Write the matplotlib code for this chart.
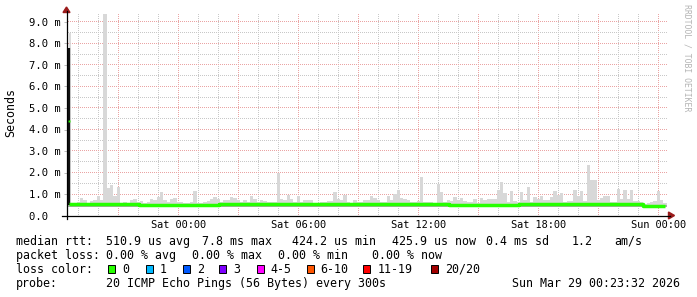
import numpy as np
import matplotlib
matplotlib.use("Agg")
import matplotlib.pyplot as plt
from matplotlib.lines import Line2D
from matplotlib.patches import Rectangle, Polygon

# ---------------- data (times in hours relative to Sat 00:00, values in ms) ----------------
start_hour = -5.6
bin_minutes = 10
smoke_top_ms = [
    0.6, 0.6, 0.6, 0.62, 0.82, 0.7, 0.6, 0.68, 0.7, 0.9, 0.7, 9.35, 1.29, 1.42, 0.92, 1.34, 0.6, 0.62,
    0.6, 0.7, 0.75, 0.62, 0.69, 0.6, 0.62, 0.78, 0.7, 0.84, 1.08, 0.7, 0.65, 0.75, 0.81, 0.65, 0.62, 0.6,
    0.6, 0.65, 1.13, 0.6, 0.6, 0.63, 0.68, 0.78, 0.87, 0.75, 0.62, 0.7, 0.72, 0.84, 0.8, 0.7, 0.62, 0.72,
    0.65, 0.9, 0.78, 0.62, 0.72, 0.69, 0.65, 0.62, 0.65, 1.99, 0.75, 0.7, 0.96, 0.75, 0.62, 0.93, 0.65, 0.72,
    0.72, 0.7, 0.6, 0.6, 0.65, 0.65, 0.69, 0.69, 1.1, 0.75, 0.7, 0.96, 0.62, 0.6, 0.72, 0.65, 0.62, 0.72,
    0.72, 0.92, 0.8, 0.72, 0.65, 0.62, 0.92, 0.72, 0.98, 1.2, 0.83, 0.78, 0.72, 0.62, 0.65, 0.69, 1.77, 0.65,
    0.62, 0.63, 0.6, 1.47, 1.1, 0.62, 0.72, 0.69, 0.87, 0.72, 0.83, 0.69, 0.65, 0.65, 0.75, 0.6, 0.83, 0.72,
    0.78, 0.78, 0.78, 1.2, 1.54, 1.03, 0.62, 1.13, 0.69, 0.62, 1.1, 0.72, 1.34, 0.65, 0.87, 0.75, 0.9, 0.7,
    0.7, 0.84, 1.13, 0.96, 1.05, 0.65, 0.69, 0.69, 1.2, 0.93, 1.13, 0.69, 2.35, 1.65, 1.65, 0.72, 0.8, 0.92,
    0.92, 0.65, 0.65, 1.22, 0.75, 1.19, 0.75, 1.19, 0.69, 0.69, 0.62, 0.55, 0.6, 0.63, 0.69, 1.16, 0.7, 0.6,
]
smoke_bottom_ms = 0.40
median_hours = [-5.5, -2.0, 2.0, 8.0, 13.5, 17.0, 20.5, 23.2, 24.3]
median_ms = [0.52, 0.51, 0.52, 0.52, 0.51, 0.52, 0.53, 0.44, 0.44]
first_sample_hour = -5.475
first_sample_top_ms = 8.5
first_sample_max_ms = 7.8
first_sample_median_ms = 4.4

ytick_values = [0, 1, 2, 3, 4, 5, 6, 7, 8, 9]
ytick_labels = ["0.0  ", "1.0 m", "2.0 m", "3.0 m", "4.0 m", "5.0 m", "6.0 m", "7.0 m", "8.0 m", "9.0 m"]
xtick_hours = [0, 6, 12, 18, 24]
xtick_labels = ["Sat 00:00", "Sat 06:00", "Sat 12:00", "Sat 18:00", "Sun 00:00"]

loss_labels = ["0", "1", "2", "3", "4-5", "6-10", "11-19", "20/20"]
loss_colors = ["#26ff00", "#00b8ff", "#0059ff", "#7e00ff", "#ff00ff", "#ff5500", "#ff0000", "#a10000"]

legend_rows = [
    [("median rtt:", 16), ("510.9 us avg", 106.5), ("7.8 ms max", 202.5), ("424.2 us min", 292.5),
     ("425.9 us now", 392.5), ("0.4 ms sd", 485.5), ("1.2", 572), ("am/s", 614.5)],
    [("packet loss:", 16), ("0.00 % avg", 106.5), ("0.00 % max", 192.5), ("0.00 % min", 278.5),
     ("0.00 % now", 372.5)],
    [("loss color:", 16)],
    [("probe:", 16), ("20 ICMP Echo Pings (56 Bytes) every 300s", 106.5),
     ("Sun Mar 29 00:23:32 2026", 512.5)],
]

# ---------------- layout ----------------
W, H = 697, 297
MONO = "DejaVu Sans Mono"
fig = plt.figure(figsize=(W / 100, H / 100), dpi=100)
fig.patch.set_facecolor("white")
ax_l, ax_r, ax_b, ax_t = 66.5, 668, 215.5, 13.4
XLIM = (-5.6, 24.475)
YLIM = (0, 9.4)
ax = fig.add_axes([ax_l / W, 1 - ax_b / H, (ax_r - ax_l) / W, (ax_b - ax_t) / H])
ax.set_xlim(*XLIM)
ax.set_ylim(*YLIM)
ax.patch.set_visible(False)
for s in ax.spines.values():
    s.set_visible(False)

# grid: RRDtool-style 1px dots every 2px, rendered as an exact-pixel figure image
MAJ = np.array([234, 164, 164, 255], dtype=np.uint8)
MINC = np.array([200, 200, 200, 255], dtype=np.uint8)
grid_img = np.zeros((H, W, 4), dtype=np.uint8)
trans = ax.transData
row_top = int(np.ceil(H - trans.transform((0, YLIM[1]))[1]))
row_bot = int(np.floor(H - trans.transform((0, YLIM[0]))[1]))
col_left = int(np.ceil(trans.transform((XLIM[0], 0))[0]))
col_right = int(np.floor(trans.transform((XLIM[1], 0))[0]))
for h in np.arange(-5, 25, 1):
    c = int(np.floor(trans.transform((h, 0))[0]))
    grid_img[row_top:row_bot:2, c] = MAJ if h % 3 == 0 else MINC
for v in np.arange(0.5, 9.4, 0.5):
    r = int(np.floor(H - trans.transform((0, v))[1]))
    is_major = abs(v - round(v)) < 1e-9
    grid_img[r, col_left + 1:col_right:2] = MAJ if is_major else MINC
fig.figimage(grid_img, xo=0, yo=0, origin="upper", zorder=-5)

# smoke
n = len(smoke_top_ms)
edges = start_hour + np.arange(n + 1) * bin_minutes / 60.0
top = np.append(smoke_top_ms, smoke_top_ms[-1])
ax.fill_between(edges, smoke_bottom_ms, top, step="post", color="#d8d8d8", lw=0, zorder=2,
                antialiased=False)
ax.fill_between(edges, smoke_bottom_ms, np.minimum(top, 0.47), step="post", color="#a9a9a9", lw=0,
                zorder=2, antialiased=False)

# first sample
ax.vlines(first_sample_hour + 0.03, 0.5, first_sample_top_ms, color="#d6d6d6", lw=1.2, zorder=3)
ax.vlines(first_sample_hour, 0.5, first_sample_max_ms, color="#111111", lw=1.6, zorder=4)
ax.plot([first_sample_hour], [first_sample_median_ms], marker="s", ms=2, color="#26ff00", mec="none", zorder=5)

# median
ax.plot(median_hours, median_ms, drawstyle="steps-post", color="#26ff00", lw=2.5, zorder=5,
        solid_capstyle="butt")

# ticks
ax.set_yticks(ytick_values)
ax.set_yticklabels(ytick_labels, family=MONO, fontsize=7.6)
ax.set_xticks(xtick_hours)
ax.set_xticklabels(xtick_labels, family=MONO, fontsize=7.4)
ax.tick_params(axis="y", length=2, width=0.7, color="#bbbbbb", pad=2.2)
ax.tick_params(axis="x", length=0, pad=3.0)

# axis lines and arrows
ax_col = "#000000"
fig.add_artist(Line2D([ax_l / W, ax_l / W], [1 - 219 / H, 1 - 11 / H], color=ax_col, lw=0.9))
fig.add_artist(Line2D([62 / W, 670 / W], [1 - ax_b / H, 1 - ax_b / H], color=ax_col, lw=0.9))
arr = "#9b1b1b"
fig.add_artist(Polygon([[(ax_l - 3.5) / W, 1 - 12.5 / H], [(ax_l + 3.5) / W, 1 - 12.5 / H],
                        [ax_l / W, 1 - 7 / H]], closed=True, color=arr, transform=fig.transFigure))
fig.add_artist(Polygon([[668.5 / W, 1 - (ax_b - 3.5) / H], [668.5 / W, 1 - (ax_b + 3.5) / H],
                        [674.5 / W, 1 - ax_b / H]], closed=True, color=arr, transform=fig.transFigure))

# texts
fig.text(11 / W, 1 - 113 / H, "Seconds", rotation=90, ha="center", va="center", family=MONO, fontsize=8.4)
fig.text(687 / W, 1 - 4 / H, "RRDTOOL / TOBI OETIKER", rotation=270, ha="center", va="top",
         family=MONO, fontsize=5.9, color="#b4b4b4")

baselines = [245, 259, 273, 287]
for row, yb in zip(legend_rows, baselines):
    for txt, x in row:
        fig.text(x / W, 1 - yb / H, txt, ha="left", va="baseline", family=MONO, fontsize=8.4, color="#000000")

box_x = [108.3, 145.7, 182.7, 219.3, 256.7, 306.7, 363.3, 430.7]
for lab, col, bx in zip(loss_labels, loss_colors, box_x):
    fig.add_artist(Rectangle((bx / W, 1 - 273 / H), 7 / W, 8 / H, transform=fig.transFigure,
                             facecolor=col, edgecolor="#000000", lw=0.7))
    fig.text((bx + 14) / W, 1 - 273 / H, lab, ha="left", va="baseline", family=MONO, fontsize=8.4)

fig.savefig("out.png", dpi=100, facecolor="white")
